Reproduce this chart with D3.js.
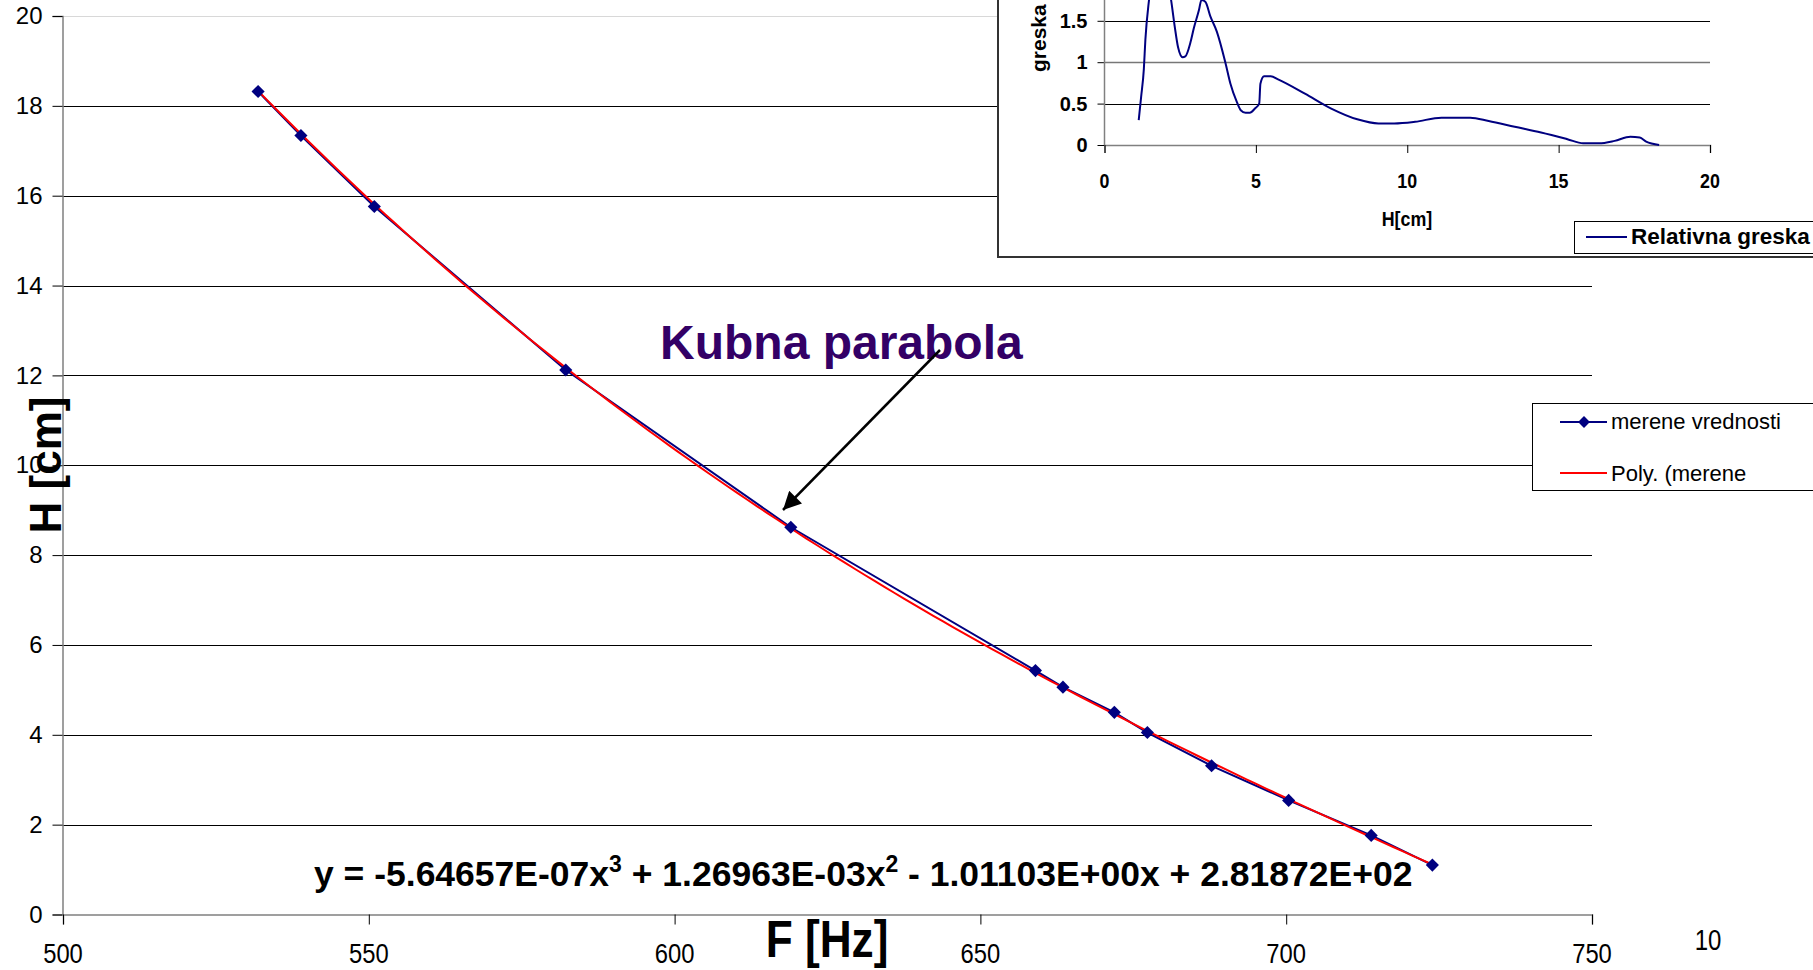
<!DOCTYPE html>
<html>
<head>
<meta charset="utf-8">
<script src="https://cdn.jsdelivr.net/npm/d3@7"></script>
<style>
  html, body { margin: 0; padding: 0; background: #fff; }
  svg { display: block; font-family: "Liberation Sans", Arial, sans-serif; }
</style>
</head>
<body>
<svg id="chart" width="1813" height="970"></svg>
<script>
// ---------- data ----------
const freqHz = [531.9, 538.9, 550.9, 582.2, 619.0, 659.0, 663.5, 671.9, 677.3, 687.8, 700.4, 713.9, 723.9];
const heightCm = [18.32, 17.34, 15.76, 12.12, 8.62, 5.43, 5.06, 4.50, 4.05, 3.31, 2.54, 1.76, 1.10];
// cubic trendline coefficients as printed on the chart (x^3, x^2, x, 1)
const polyCoef = [-5.64657e-7, 1.26963e-3, -1.01103, 281.872];
const xTicks = [500, 550, 600, 650, 700, 750];
const yTicks = [0, 2, 4, 6, 8, 10, 12, 14, 16, 18, 20];

// inset: relative error vs H
const insetH   = [1.13, 1.21, 1.30, 1.35, 1.47, 1.8, 2.2, 2.32, 2.43, 2.58, 2.67, 2.84, 2.95, 3.12, 3.2, 3.33, 3.5, 3.71, 3.99, 4.16, 4.37, 4.5, 4.66, 4.8, 4.97, 5.11, 5.15, 5.27, 5.49, 5.75, 6.62, 7.49, 8.35, 9.05, 9.57, 10.26, 11.13, 12.08, 12.69, 13.55, 14.42, 15.29, 15.81, 16.33, 16.85, 17.37, 17.68, 17.89, 18.32];
const insetErr = [0.30, 0.58, 0.92, 1.27, 1.75, 2.3, 1.75, 1.43, 1.18, 1.06, 1.07, 1.24, 1.41, 1.63, 1.75, 1.73, 1.55, 1.37, 1.00, 0.74, 0.52, 0.42, 0.39, 0.39, 0.44, 0.50, 0.74, 0.83, 0.83, 0.79, 0.62, 0.44, 0.31, 0.26, 0.26, 0.28, 0.33, 0.33, 0.29, 0.22, 0.15, 0.07, 0.02, 0.02, 0.05, 0.10, 0.09, 0.04, 0.00];
const insetXTicks = [0, 5, 10, 15, 20];
const insetYTicks = [0, 0.5, 1, 1.5];

// ---------- main chart ----------
const svg = d3.select("#chart");
svg.append("rect").attr("width", 1813).attr("height", 970).attr("fill", "#fff");

const x = d3.scaleLinear().domain([500, 750]).range([63, 1592]);
const y = d3.scaleLinear().domain([0, 20]).range([914.5, 16]);

const navy = "#000080";

// gridlines
svg.append("g").selectAll("line").data(yTicks.filter(d => d > 0)).join("line")
  .attr("x1", x(500)).attr("x2", x(750))
  .attr("y1", d => Math.round(y(d)) + 0.5).attr("y2", d => Math.round(y(d)) + 0.5)
  .attr("stroke", d => d === 20 ? "#d8d8d8" : "#000").attr("stroke-width", 1);

// y axis
const yAxis = d3.axisLeft(y).tickValues(yTicks).tickSize(10).tickPadding(10).tickFormat(d3.format("d"));
const gy = svg.append("g").attr("transform", `translate(${62.5},0)`).call(yAxis);
gy.select(".domain").attr("stroke", "#808080").attr("stroke-width", 1.5);
gy.selectAll(".tick line").attr("stroke", "#000");
gy.selectAll(".tick text").attr("font-size", 24).attr("fill", "#000")
  .attr("font-family", "Liberation Sans, Arial, sans-serif");

// x axis
const xAxis = d3.axisBottom(x).tickValues(xTicks).tickSize(10).tickFormat("");
const gx = svg.append("g").attr("transform", `translate(0,${914.5})`).call(xAxis);
gx.select(".domain").attr("stroke", "#808080").attr("stroke-width", 1.5);
gx.selectAll(".tick line").attr("stroke", "#000");
svg.append("g").selectAll("text").data(xTicks).join("text")
  .attr("transform", d => `translate(${x(d)},963) scale(0.85,1)`)
  .attr("text-anchor", "middle").attr("font-size", 28).attr("fill", "#000")
  .text(d => d);

// stray label
svg.append("text").attr("transform", "translate(1708,950) scale(0.8,1)")
  .attr("text-anchor", "middle").attr("font-size", 30).text("10");

// trendline (cubic from printed coefficients)
const poly = v => ((polyCoef[0] * v + polyCoef[1]) * v + polyCoef[2]) * v + polyCoef[3];
const f0 = d3.min(freqHz), f1 = d3.max(freqHz);
const trendPts = d3.range(0, 121).map(i => {
  const f = f0 + (f1 - f0) * i / 120;
  return [f, poly(f)];
});
const lineGen = d3.line().x(d => x(d[0])).y(d => y(d[1]));

// measured series
const measured = freqHz.map((f, i) => [f, heightCm[i]]);
svg.append("path").datum(measured).attr("d", lineGen)
  .attr("fill", "none").attr("stroke", navy).attr("stroke-width", 2);

svg.append("path").datum(trendPts).attr("d", lineGen)
  .attr("fill", "none").attr("stroke", "#ff0000").attr("stroke-width", 2);

const diamond = d3.symbol().type(d3.symbolDiamond2).size(110);
svg.append("g").selectAll("path").data(measured).join("path")
  .attr("transform", d => `translate(${x(d[0])},${y(d[1])})`)
  .attr("d", diamond).attr("fill", navy);

// axis titles
svg.append("text").attr("transform", "translate(61,465) rotate(-90)")
  .attr("text-anchor", "middle").attr("font-size", 44).attr("font-weight", "bold").text("H [cm]");
svg.append("text").attr("transform", "translate(827,957) scale(0.85,1)")
  .attr("text-anchor", "middle").attr("font-size", 52).attr("font-weight", "bold").text("F [Hz]");

// annotation
svg.append("text").attr("x", 660).attr("y", 359)
  .attr("font-size", 48).attr("font-weight", "bold").attr("fill", "#330066").text("Kubna parabola");

svg.append("defs").append("marker").attr("id", "arrow")
  .attr("viewBox", "0 0 10 10").attr("refX", 10).attr("refY", 5)
  .attr("markerWidth", 22).attr("markerHeight", 18).attr("markerUnits", "userSpaceOnUse")
  .attr("orient", "auto")
  .append("path").attr("d", "M0,0 L10,5 L0,10 Z").attr("fill", "#000");
svg.append("line").attr("x1", 940).attr("y1", 350).attr("x2", 783).attr("y2", 510)
  .attr("stroke", "#000").attr("stroke-width", 2.5).attr("marker-end", "url(#arrow)");

// equation
const eq = svg.append("text").attr("x", 314).attr("y", 886)
  .attr("font-size", 35.5).attr("font-weight", "bold").attr("fill", "#000");
eq.append("tspan").text("y = -5.64657E-07x");
eq.append("tspan").attr("font-size", 23).attr("dy", -14).text("3");
eq.append("tspan").attr("dy", 14).text(" + 1.26963E-03x");
eq.append("tspan").attr("font-size", 23).attr("dy", -14).text("2");
eq.append("tspan").attr("dy", 14).text(" - 1.01103E+00x + 2.81872E+02");

// main legend
const lg = svg.append("g");
lg.append("rect").attr("x", 1532.5).attr("y", 403.5).attr("width", 320).attr("height", 87)
  .attr("fill", "#fff").attr("stroke", "#000").attr("stroke-width", 1);
lg.append("line").attr("x1", 1560).attr("x2", 1607).attr("y1", 422).attr("y2", 422)
  .attr("stroke", navy).attr("stroke-width", 2);
lg.append("path").attr("transform", "translate(1584,422)").attr("d", d3.symbol().type(d3.symbolDiamond2).size(90)).attr("fill", navy);
lg.append("text").attr("x", 1611).attr("y", 429).attr("font-size", 22).text("merene vrednosti");
lg.append("line").attr("x1", 1560).attr("x2", 1607).attr("y1", 473).attr("y2", 473)
  .attr("stroke", "#ff0000").attr("stroke-width", 2);
lg.append("text").attr("x", 1611).attr("y", 481).attr("font-size", 22).text("Poly. (merene");

// ---------- inset chart ----------
const ins = svg.append("g");
ins.append("rect").attr("x", 998).attr("y", -20).attr("width", 900).attr("height", 277)
  .attr("fill", "#fff").attr("stroke", "#333").attr("stroke-width", 2);

const ix = d3.scaleLinear().domain([0, 20]).range([1104.5, 1710]);
const iy = d3.scaleLinear().domain([0, 1.5]).range([145, 20.8]);

ins.append("g").selectAll("line").data(insetYTicks.filter(d => d > 0)).join("line")
  .attr("x1", ix(0)).attr("x2", ix(20))
  .attr("y1", d => Math.round(iy(d)) + 0.5).attr("y2", d => Math.round(iy(d)) + 0.5)
  .attr("stroke", d => d === 1 ? "#777" : "#000").attr("stroke-width", d => d === 1 ? 1.5 : 1);

const giy = ins.append("g").attr("transform", `translate(${ix(0)},0)`)
  .call(d3.axisLeft(iy).tickValues(insetYTicks).tickSize(7).tickPadding(10).tickFormat(d => d));
giy.select(".domain").remove();
ins.append("line").attr("x1", ix(0)).attr("x2", ix(0)).attr("y1", -5).attr("y2", iy(0))
  .attr("stroke", "#808080").attr("stroke-width", 1.5);
giy.selectAll(".tick line").attr("stroke", "#000");
giy.selectAll(".tick text").attr("font-size", 20).attr("font-weight", "bold").attr("fill", "#000")
  .attr("font-family", "Liberation Sans, Arial, sans-serif");

const gix = ins.append("g").attr("transform", `translate(0,${iy(0)})`)
  .call(d3.axisBottom(ix).tickValues(insetXTicks).tickSize(8).tickFormat(""));
gix.select(".domain").attr("stroke", "#808080").attr("stroke-width", 1.5);
gix.selectAll(".tick line").attr("stroke", "#000");
ins.append("g").selectAll("text").data(insetXTicks).join("text")
  .attr("transform", d => `translate(${ix(d)},188) scale(0.85,1)`)
  .attr("text-anchor", "middle").attr("font-size", 21).attr("font-weight", "bold").text(d => d);

ins.append("text").attr("transform", "translate(1407,226) scale(0.85,1)")
  .attr("text-anchor", "middle").attr("font-size", 21).attr("font-weight", "bold").text("H[cm]");
ins.append("text").attr("transform", "translate(1046,72) rotate(-90)")
  .attr("text-anchor", "start").attr("font-size", 21).attr("font-weight", "bold").text("greska");

const insetPts = insetH.map((h, i) => [h, insetErr[i]]);
ins.append("path").datum(insetPts)
  .attr("d", d3.line().x(d => ix(d[0])).y(d => iy(d[1])).curve(d3.curveMonotoneX))
  .attr("fill", "none").attr("stroke", navy).attr("stroke-width", 2);

// inset legend
ins.append("rect").attr("x", 1574.5).attr("y", 221.5).attr("width", 300).attr("height", 32)
  .attr("fill", "#fff").attr("stroke", "#000").attr("stroke-width", 1);
ins.append("line").attr("x1", 1586).attr("x2", 1627).attr("y1", 237).attr("y2", 237)
  .attr("stroke", navy).attr("stroke-width", 2);
ins.append("text").attr("x", 1631).attr("y", 244)
  .attr("font-size", 22.5).attr("font-weight", "bold").text("Relativna greska");
</script>
</body>
</html>
